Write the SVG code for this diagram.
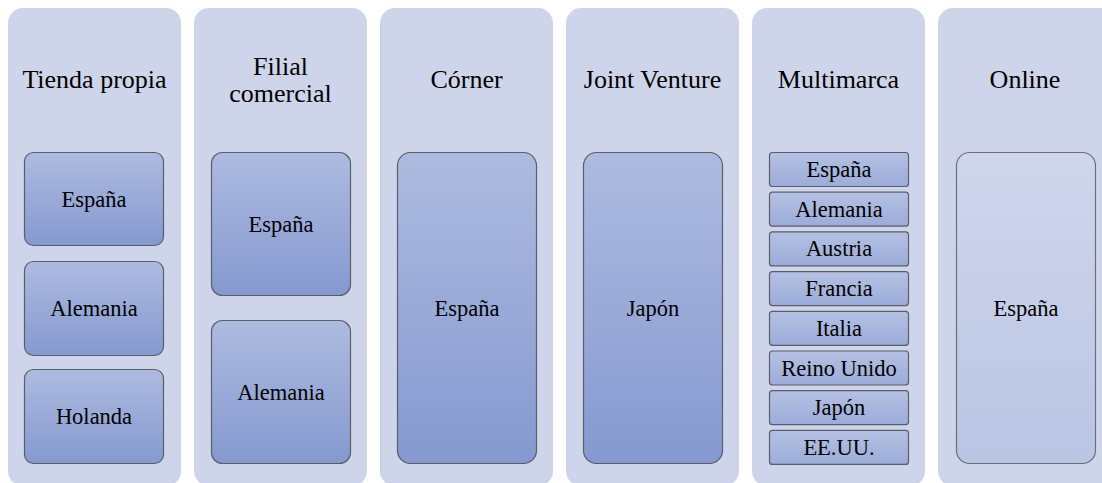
<svg xmlns="http://www.w3.org/2000/svg" width="1102" height="483" viewBox="0 0 1102 483">
<defs>
<linearGradient id="gDark" x1="0" y1="0" x2="0" y2="1">
<stop offset="0" stop-color="#AEBBE0"/>
<stop offset="1" stop-color="#8599D0"/>
</linearGradient>
<linearGradient id="gSmall" x1="0" y1="0" x2="0" y2="1">
<stop offset="0" stop-color="#B5C1E3"/>
<stop offset="1" stop-color="#9CACD9"/>
</linearGradient>
<linearGradient id="gLight" x1="0" y1="0" x2="0" y2="1">
<stop offset="0" stop-color="#D0D6EB"/>
<stop offset="1" stop-color="#BAC5E4"/>
</linearGradient>
<style>
.col{fill:#CED5EA;}
.hd{font-family:"Liberation Serif","Times New Roman",serif;font-size:26px;fill:#000;text-anchor:middle;}
.tx{font-family:"Liberation Serif","Times New Roman",serif;font-size:22.5px;fill:#000;text-anchor:middle;}
.box{fill:url(#gDark);stroke:#5A5E6A;stroke-width:1.2;}
.sbox{fill:url(#gSmall);stroke:#5A5E6A;stroke-width:1.2;}
.lbox{fill:url(#gLight);stroke:#6E7078;stroke-width:1.2;}
</style>
</defs>
<rect width="1102" height="483" fill="#FFFFFF"/>
<g id="connectors"></g>
<g id="col-tienda">
<rect class="col" x="8" y="8" width="173" height="478" rx="15"/>
<text class="hd" x="94.5" y="88">Tienda propia</text>
<g id="tienda-espana"><rect class="box" x="24.5" y="152.5" width="139" height="93" rx="9"/><text class="tx" x="94" y="207">España</text></g>
<g id="tienda-alemania"><rect class="box" x="24.5" y="261.5" width="139" height="94" rx="9"/><text class="tx" x="94" y="316">Alemania</text></g>
<g id="tienda-holanda"><rect class="box" x="24.5" y="369.5" width="139" height="94" rx="9"/><text class="tx" x="94" y="424">Holanda</text></g>
</g>
<g id="col-filial">
<rect class="col" x="194" y="8" width="173" height="478" rx="15"/>
<text class="hd" x="280.5" y="75">Filial</text>
<text class="hd" x="280.5" y="102">comercial</text>
<g id="filial-espana"><rect class="box" x="211.5" y="152.5" width="139" height="143" rx="11"/><text class="tx" x="281" y="232">España</text></g>
<g id="filial-alemania"><rect class="box" x="211.5" y="320.5" width="139" height="143" rx="11"/><text class="tx" x="281" y="400">Alemania</text></g>
</g>
<g id="col-corner">
<rect class="col" x="380" y="8" width="173" height="478" rx="15"/>
<text class="hd" x="466.5" y="88">Córner</text>
<g id="corner-espana"><rect class="box" x="397.5" y="152.5" width="139" height="311" rx="13"/><text class="tx" x="467" y="316">España</text></g>
</g>
<g id="col-joint">
<rect class="col" x="566" y="8" width="173" height="478" rx="15"/>
<text class="hd" x="652.5" y="88">Joint Venture</text>
<g id="joint-japon"><rect class="box" x="583.5" y="152.5" width="139" height="311" rx="13"/><text class="tx" x="653" y="316">Japón</text></g>
</g>
<g id="col-multimarca">
<rect class="col" x="752" y="8" width="173" height="478" rx="15"/>
<text class="hd" x="838.5" y="88">Multimarca</text>
<g id="mm-espana"><rect class="sbox" x="769.5" y="152.5" width="139" height="34" rx="3"/><text class="tx" x="839" y="177">España</text></g>
<g id="mm-alemania"><rect class="sbox" x="769.5" y="192.2" width="139" height="34" rx="3"/><text class="tx" x="839" y="216.7">Alemania</text></g>
<g id="mm-austria"><rect class="sbox" x="769.5" y="231.9" width="139" height="34" rx="3"/><text class="tx" x="839" y="256.4">Austria</text></g>
<g id="mm-francia"><rect class="sbox" x="769.5" y="271.6" width="139" height="34" rx="3"/><text class="tx" x="839" y="296.1">Francia</text></g>
<g id="mm-italia"><rect class="sbox" x="769.5" y="311.3" width="139" height="34" rx="3"/><text class="tx" x="839" y="335.8">Italia</text></g>
<g id="mm-reino"><rect class="sbox" x="769.5" y="351" width="139" height="34" rx="3"/><text class="tx" x="839" y="375.5">Reino Unido</text></g>
<g id="mm-japon"><rect class="sbox" x="769.5" y="390.7" width="139" height="34" rx="3"/><text class="tx" x="839" y="415.2">Japón</text></g>
<g id="mm-eeuu"><rect class="sbox" x="769.5" y="430.4" width="139" height="34" rx="3"/><text class="tx" x="839" y="454.9">EE.UU.</text></g>
</g>
<g id="col-online">
<rect class="col" x="938" y="8" width="180" height="478" rx="15"/>
<text class="hd" x="1025" y="88">Online</text>
<g id="online-espana"><rect class="lbox" x="956.5" y="152.5" width="139" height="311" rx="13"/><text class="tx" x="1026" y="316">España</text></g>
</g>
</svg>
